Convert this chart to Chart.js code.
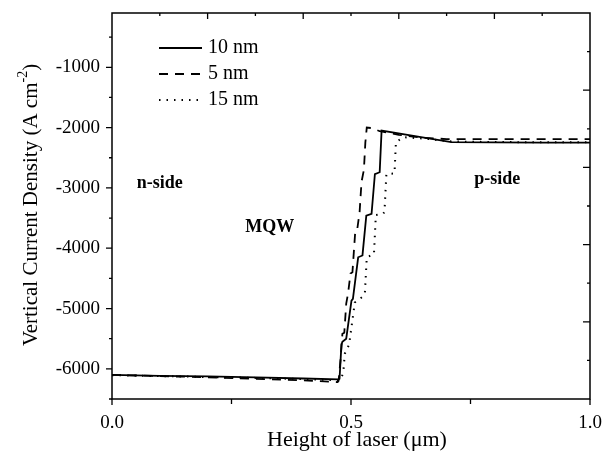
<!DOCTYPE html>
<html>
<head>
<meta charset="utf-8">
<script src="https://cdn.jsdelivr.net/npm/chart.js@4.4.0/dist/chart.umd.min.js"></script>
<style>
  html, body { margin: 0; padding: 0; background: #fff; }
  #wrap { width: 604px; height: 453px; position: relative; }
</style>
</head>
<body>
<div id="wrap"><canvas id="c" width="604" height="453"></canvas></div>
<script>
// series
const x10 = [0, 0.1, 0.2, 0.3, 0.4, 0.474, 0.476, 0.480, 0.482, 0.490, 0.501, 0.504, 0.515, 0.524, 0.532, 0.543, 0.550, 0.560, 0.564, 0.64, 0.71, 0.8, 0.9, 1.0];
const y10 = [-6100, -6115, -6125, -6140, -6160, -6175, -6165, -5600, -5550, -5500, -4870, -4840, -4150, -4120, -3460, -3430, -2770, -2740, -2050, -2150, -2240, -2245, -2248, -2250];

const x5 = [0, 0.1, 0.2, 0.3, 0.4, 0.472, 0.474, 0.478, 0.482, 0.486, 0.490, 0.494, 0.499, 0.503, 0.509, 0.513, 0.518, 0.522, 0.527, 0.530, 0.533, 0.545, 0.56, 0.6, 0.65, 0.7, 0.8, 1.0];
const y5 = [-6100, -6120, -6140, -6165, -6190, -6220, -6200, -5860, -5420, -5400, -4920, -4740, -4420, -4400, -3710, -3690, -3400, -2900, -2700, -2250, -2000, -2010, -2060, -2120, -2170, -2190, -2190, -2190];

const x15 = [0, 0.1, 0.2, 0.3, 0.4, 0.476, 0.480, 0.484, 0.487, 0.496, 0.502, 0.508, 0.525, 0.529, 0.533, 0.548, 0.552, 0.567, 0.570, 0.574, 0.591, 0.594, 0.61, 0.65, 0.71, 0.8, 1.0];
const y15 = [-6105, -6120, -6135, -6150, -6170, -6190, -6150, -6050, -5750, -5600, -5250, -4900, -4800, -4750, -4150, -4100, -3450, -3430, -3400, -2770, -2760, -2240, -2160, -2180, -2230, -2240, -2245];

const seriesNames = ['10 nm', '5 nm', '15 nm'];
const xTicks = [0, 0.5, 1.0];
const xMinor = [0.25, 0.75];
const yTicks = [-1000, -2000, -3000, -4000, -5000, -6000];
const yMinor = [-500, -1500, -2500, -3500, -4500, -5500, -6500];
const regionLabels = [
  { text: 'n-side', x: 0.1, y: -2930 },
  { text: 'MQW', x: 0.33, y: -3650 },
  { text: 'p-side', x: 0.806, y: -2850 }
];

const serif = '"Liberation Serif", "Times New Roman", serif';
const styles = [[], [9, 7], [1.5, 6]];

function pts(xs, ys) { return xs.map((x, i) => ({ x: x, y: ys[i] })); }

const framePlugin = {
  id: 'frame',
  afterDraw(chart) {
    const ctx = chart.ctx;
    const a = chart.chartArea;
    const xs = chart.scales.x, ys = chart.scales.y;
    ctx.save();
    ctx.strokeStyle = '#000';
    ctx.lineWidth = 1.5;
    ctx.strokeRect(a.left, a.top, a.right - a.left, a.bottom - a.top);
    ctx.lineWidth = 1.3;
    ctx.beginPath();
    // left ticks outward
    yTicks.forEach(v => { const p = ys.getPixelForValue(v); ctx.moveTo(a.left, p); ctx.lineTo(a.left - 6, p); });
    yMinor.forEach(v => { const p = ys.getPixelForValue(v); ctx.moveTo(a.left, p); ctx.lineTo(a.left - 3, p); });
    // bottom ticks outward
    xTicks.forEach(v => { const p = xs.getPixelForValue(v); ctx.moveTo(p, a.bottom); ctx.lineTo(p, a.bottom + 6); });
    xMinor.forEach(v => { const p = xs.getPixelForValue(v); ctx.moveTo(p, a.bottom); ctx.lineTo(p, a.bottom + 5); });
    // top ticks inward, every 0.1
    for (let i = 1; i < 10; i++) {
      const p = xs.getPixelForValue(i / 10);
      ctx.moveTo(p, a.top); ctx.lineTo(p, a.top + (i % 2 === 0 ? 6 : 3));
    }
    // right ticks inward, ten divisions
    for (let i = 1; i < 10; i++) {
      const p = a.top + (a.bottom - a.top) * i / 10;
      ctx.moveTo(a.right, p); ctx.lineTo(a.right - (i % 2 === 0 ? 7 : 3), p);
    }
    ctx.stroke();

    // legend
    ctx.fillStyle = '#000';
    ctx.font = '20px ' + serif;
    ctx.textBaseline = 'middle';
    seriesNames.forEach((name, i) => {
      const yy = 48 + i * 26;
      ctx.setLineDash(styles[i]);
      ctx.lineWidth = i === 2 ? 2 : 1.8;
      ctx.beginPath(); ctx.moveTo(159, yy); ctx.lineTo(202, yy); ctx.stroke();
      ctx.setLineDash([]);
      ctx.fillText(name, 208, yy);
    });

    // region labels
    ctx.font = 'bold 18px ' + serif;
    ctx.textAlign = 'center';
    regionLabels.forEach(r => ctx.fillText(r.text, xs.getPixelForValue(r.x), ys.getPixelForValue(r.y)));

    // axis titles
    ctx.font = '22px ' + serif;
    ctx.fillText('Height of laser (\u03bcm)', 357, 440);

    ctx.translate(31, 205);
    ctx.rotate(-Math.PI / 2);
    const main = 'Vertical Current Density (A cm', sup = '-2', tail = ')';
    ctx.font = '21px ' + serif;
    const w1 = ctx.measureText(main).width, w3 = ctx.measureText(tail).width;
    ctx.font = '14px ' + serif;
    const w2 = ctx.measureText(sup).width;
    let sx = -(w1 + w2 + w3) / 2;
    ctx.textAlign = 'left';
    ctx.font = '21px ' + serif;
    ctx.fillText(main, sx, 0);
    ctx.font = '14px ' + serif;
    ctx.fillText(sup, sx + w1, -8);
    ctx.font = '21px ' + serif;
    ctx.fillText(tail, sx + w1 + w2, 0);
    ctx.restore();
  }
};

new Chart(document.getElementById('c').getContext('2d'), {
  type: 'line',
  data: {
    datasets: [
      { label: seriesNames[0], data: pts(x10, y10), borderColor: '#000', borderWidth: 1.8, borderDash: styles[0] },
      { label: seriesNames[1], data: pts(x5, y5), borderColor: '#000', borderWidth: 1.8, borderDash: styles[1] },
      { label: seriesNames[2], data: pts(x15, y15), borderColor: '#000', borderWidth: 2, borderDash: styles[2] }
    ]
  },
  options: {
    responsive: false,
    animation: false,
    devicePixelRatio: 1,
    layout: { padding: { left: 0, right: 14, top: 13, bottom: 0 } },
    elements: { point: { radius: 0 }, line: { tension: 0, fill: false } },
    plugins: { legend: { display: false }, tooltip: { enabled: false } },
    scales: {
      x: {
        type: 'linear', min: 0, max: 1,
        grid: { display: false, drawTicks: false },
        border: { display: false },
        afterBuildTicks: s => { s.ticks = xTicks.map(v => ({ value: v })); },
        afterFit: s => { s.height = 54; s.paddingLeft = 0; s.paddingRight = 0; },
        ticks: { color: '#000', padding: 13, autoSkip: false, font: { family: serif, size: 19 }, maxRotation: 0,
          callback: v => v.toFixed(1) }
      },
      y: {
        min: -6500, max: -100,
        grid: { display: false, drawTicks: false },
        border: { display: false },
        afterBuildTicks: s => { s.ticks = yTicks.map(v => ({ value: v })); },
        afterFit: s => { s.width = 112; s.paddingTop = 0; s.paddingBottom = 0; },
        ticks: { color: '#000', padding: 12, autoSkip: false, font: { family: serif, size: 19 },
          callback: v => String(v) }
      }
    }
  },
  plugins: [framePlugin]
});
</script>
</body>
</html>
